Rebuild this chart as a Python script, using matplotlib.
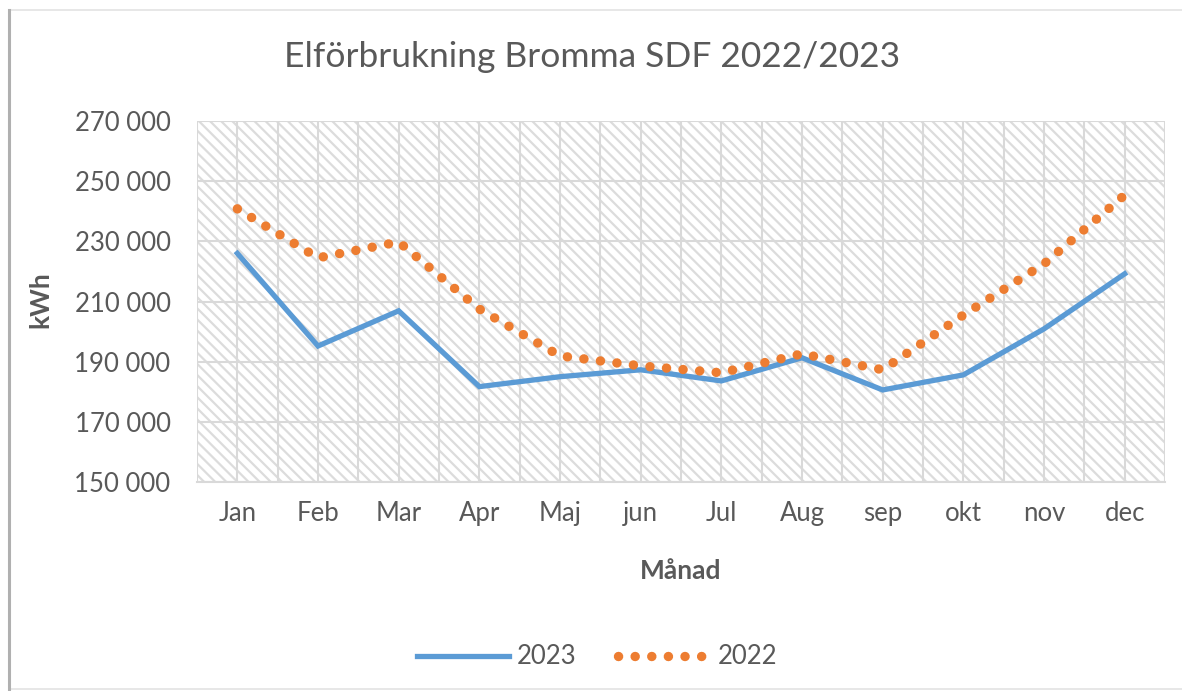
import matplotlib.pyplot as plt
from matplotlib.patches import Rectangle
from matplotlib.lines import Line2D
from matplotlib.ticker import FuncFormatter

plt.rcParams['font.family'] = ['Lato', 'DejaVu Sans']
plt.rcParams['hatch.linewidth'] = 1.6
plt.rcParams['hatch.color'] = '#dcdcdc'

TXT = '#595959'
GRID = '#d9d9d9'

months = ['Jan', 'Feb', 'Mar', 'Apr', 'Maj', 'jun', 'Jul', 'Aug', 'sep', 'okt', 'nov', 'dec']
kwh_2023 = [226000, 195200, 206900, 181700, 185000, 187300, 183600, 191300, 180600, 185600, 200900, 219200]
kwh_2022 = [240800, 224500, 229800, 207500, 191900, 188600, 186300, 192600, 187300, 205500, 222500, 245400]
y_ticks = [150000, 170000, 190000, 210000, 230000, 250000, 270000]

fig = plt.figure(figsize=(11.82, 6.91), dpi=100)
fig.patch.set_facecolor('white')

# chart frame with a faint shadow on the left edge
fig.patches.append(Rectangle((9 / 1182, 2 / 691), 1.2, 679 / 691, transform=fig.transFigure,
                             facecolor='none', edgecolor='#e3e3e3', lw=1.2))
fig.lines.append(Line2D([9.5 / 1182, 9.5 / 1182], [2 / 691, 681 / 691], transform=fig.transFigure,
                        color='#b0b0b0', lw=2.2))

ax = fig.add_axes([197 / 1182, 1 - 482 / 691, 968 / 1182, 361 / 691])
ax.set_facecolor('white')
ax.patch.set_hatch('\\\\\\')
ax.patch.set_edgecolor('#dcdcdc')

x = list(range(len(months)))
ax.plot(x, kwh_2023, color='#5b9bd5', lw=3.8, solid_joinstyle='miter', label='2023', zorder=3)
ax.plot(x, kwh_2022, color='#ed7d31', lw=6.8, linestyle=(0, (0.01, 1.75)),
        dash_capstyle='round', label='2022', zorder=4)

ax.set_xlim(-0.5, 11.5)
ax.set_ylim(y_ticks[0], y_ticks[-1])
ax.set_yticks(y_ticks)
ax.yaxis.set_major_formatter(FuncFormatter(lambda v, p: f'{int(v):,}'.replace(',', ' ')))
ax.set_xticks(x)
ax.set_xticklabels(months)
ax.set_xticks([i - 0.5 for i in range(13)], minor=True)

ax.grid(True, which='both', axis='x', color=GRID, lw=1.5, zorder=1)
ax.grid(True, which='major', axis='y', color=GRID, lw=1.5, zorder=1)
ax.set_axisbelow(True)
for s in ax.spines.values():
    s.set_visible(False)
ax.spines['bottom'].set_visible(True)
ax.spines['bottom'].set_color(GRID)
ax.spines['bottom'].set_linewidth(1.5)

ax.tick_params(axis='both', which='both', length=0, labelsize=18.5, colors=TXT)
ax.tick_params(axis='y', pad=19)
ax.tick_params(axis='x', pad=14)

fig.text(592 / 1182, 1 - 57 / 691, 'Elförbrukning Bromma SDF 2022/2023', ha='center', va='center',
         fontsize=25.5, color=TXT)
fig.text(40 / 1182, 1 - 300 / 691, 'kWh', rotation=90, ha='center', va='center',
         fontsize=19, color=TXT, fontweight='bold')
fig.text(681 / 1182, 1 - 571 / 691, 'Månad', ha='center', va='center',
         fontsize=19, color=TXT, fontweight='bold')

fig.legend(loc='center', bbox_to_anchor=(597 / 1182, 1 - 657 / 691), ncol=2, frameon=False,
           fontsize=18.5, labelcolor=TXT, handlelength=3.6, handletextpad=0.3, columnspacing=1.6)

fig.savefig('out.png', dpi=100)
